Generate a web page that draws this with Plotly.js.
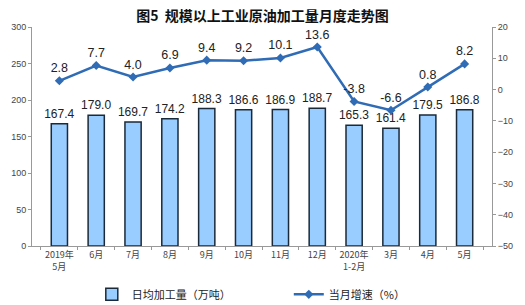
<!DOCTYPE html>
<html><head><meta charset="utf-8">
<script src="https://cdn.plot.ly/plotly-3.0.1.min.js"></script>
<style>html,body{margin:0;padding:0;background:#fff}#c{width:525px;height:305px}</style>
</head><body><div id="c"></div>
<script>
const categories = ["2019年<br>5月","6月","7月","8月","9月","10月","11月","12月","2020年<br>1-2月","3月","4月","5月"];
const dailyOutput = [167.4,179.0,169.7,174.2,188.3,186.6,186.9,188.7,165.3,161.4,179.5,186.8];
const growth = [2.8,7.7,4.0,6.9,9.4,9.2,10.1,13.6,-3.8,-6.6,0.8,8.2];

const font = "Liberation Sans, Arial, Noto Sans CJK SC, sans-serif";
const cjk = "Noto Sans CJK SC, sans-serif";

const traces = [
  {type:"bar", x:categories, y:dailyOutput, name:"日均加工量（万吨）",
   marker:{color:"#99CCFF", line:{color:"#1a2a3a", width:1.5}},
   width:0.44,
   text:dailyOutput.map(v=>v.toFixed(1)), textposition:"outside", cliponaxis:false, constraintext:"none",
   textfont:{family:font, size:12, color:"#222"}, yaxis:"y"},
  {type:"scatter", mode:"lines+markers+text", x:categories, y:growth, name:"当月增速（%）",
   line:{color:"#2F6CB5", width:2.5}, marker:{symbol:"diamond", size:7, color:"#2F6CB5"},
   text:growth.map(v=>v.toFixed(1)), textposition:"top center", cliponaxis:false,
   textfont:{family:font, size:12.5, color:"#222"}, yaxis:"y2"}
];

const layout = {
  width:525, height:305,
  margin:{l:32, r:33, t:27, b:59},
  paper_bgcolor:"#fff", plot_bgcolor:"#fff",
  title:{text:"<b>图5  规模以上工业原油加工量月度走势图</b>", font:{family:cjk, size:14, color:"#111"}, x:0.5, xanchor:"center", yref:"container", y:0.948, yanchor:"middle"},
  showlegend:true,
  legend:{orientation:"h", x:0.13, xanchor:"left", yref:"container", y:0.035, yanchor:"middle", font:{family:cjk, size:11, color:"#222"}, itemwidth:30, traceorder:"normal", entrywidth:152},
  xaxis:{type:"category", showline:true, linecolor:"#999", linewidth:1, ticks:"outside", ticklen:3, tickcolor:"#999",
    tickson:"boundaries", tickfont:{family:cjk, size:9, color:"#444"}, tickangle:0, showgrid:false},
  yaxis:{range:[0,300], dtick:50, showline:true, linecolor:"#999", ticks:"outside", ticklen:3, tickcolor:"#999",
    tickfont:{family:font, size:9, color:"#444"}, showgrid:false, zeroline:false},
  yaxis2:{range:[-50,20], dtick:10, overlaying:"y", side:"right", showline:true, linecolor:"#999", ticks:"outside", ticklen:3, tickcolor:"#999",
    tickfont:{family:font, size:9, color:"#444"}, showgrid:false, zeroline:false}
};
Plotly.newPlot("c", traces, layout, {displayModeBar:false, staticPlot:true});
</script></body></html>
